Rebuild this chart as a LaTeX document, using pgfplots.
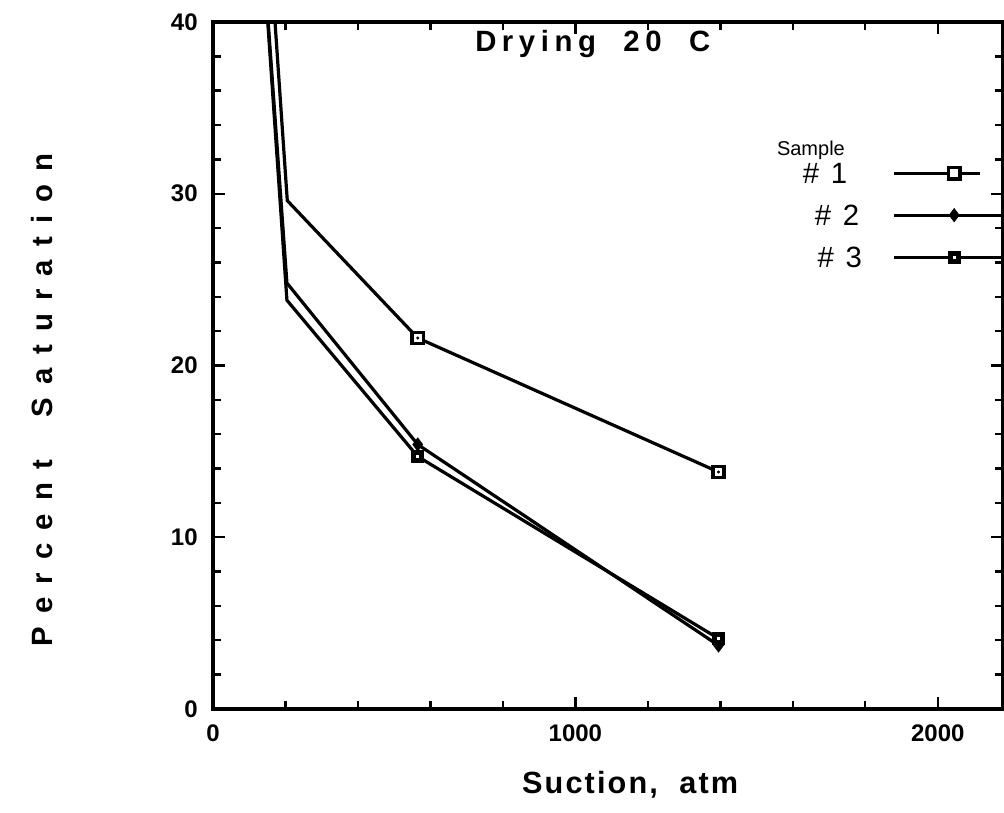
\documentclass[border=0pt]{standalone}
\usepackage{fontspec}
\setmainfont{Liberation Sans}
\usepackage{pgfplots}
\pgfplotsset{compat=1.18}

% drying curves, three samples (first row lies above the plot, clipped)
\pgfplotstableread{
x y
145 48
205 29.6
565 21.6
1395 13.8
}\sone
\pgfplotstableread{
x y
125 48
204 24.8
565 15.4
1395 3.7
}\stwo
\pgfplotstableread{
x y
125 48
204 23.8
565 14.7
1395 4.1
}\sthree

\begin{document}
\begin{tikzpicture}
\begin{axis}[
    scale only axis,
    width=592.5pt, height=515.25pt,
    xmin=0, xmax=2180, ymin=0, ymax=40,
    xtick={0,1000,2000}, ytick={0,10,20,30,40},
    minor x tick num=4, minor y tick num=4,
    tick align=inside,
    xtick pos=both, ytick pos=both,
    xticklabel pos=left, yticklabel pos=left,
    major tick length=9pt, minor tick length=6pt,
    every tick/.style={black, line width=1.8pt},
    axis line style={line width=2.4pt},
    ticklabel style={font=\fontsize{18}{18}\selectfont\bfseries},
    /pgf/number format/assume math mode=true,
    /pgf/number format/1000 sep={},
    yticklabel style={xshift=-8pt},
    xticklabel style={yshift=-8.5pt},
    xlabel={Suction,\ \ atm},
    ylabel={Percent\ \ Saturation},
    xlabel style={at={(axis description cs:0.528,-0.111)}, anchor=center,
        font=\fontsize{23}{23}\selectfont\bfseries\addfontfeature{LetterSpace=7}},
    ylabel style={at={(axis description cs:-0.2165,0.45)}, anchor=center,
        font=\fontsize{22}{22}\selectfont\bfseries\addfontfeature{LetterSpace=45}},
    legend plot pos=right,
    legend cell align=left,
    legend style={at={(axis cs:1616,31.97)}, anchor=north west, draw=none, fill=none,
        font=\fontsize{22}{22}\selectfont,
        nodes={inner sep=0pt, text height=15.5pt, text depth=0pt},
        row sep=16pt,
        /tikz/every odd column/.append style={column sep=23pt}},
    legend image code/.code={\draw[mark indices={2}]
        plot coordinates {(0pt,0pt) (45pt,0pt) (82pt,0pt)};},
]
\addplot[black, line width=2.4pt, mark indices={2,3,4}, mark=square*,
    mark size=4.2pt, mark options={fill=white, line width=2.6pt},
    legend image code/.code={\draw[mark indices={2}]
        plot coordinates {(0pt,0pt) (45pt,0pt) (64pt,0pt)};}] table {\sone};
\addlegendentry{\#\hspace{0.4em}1}
\addplot[black, line width=2.4pt, mark indices={2,3,4}, mark=diamond*,
    mark size=5pt, mark options={fill=black, line width=0.5pt}] table {\stwo};
\addlegendentry{\hspace{9pt}\#\hspace{0.4em}2}
\addplot[black, line width=2.4pt, mark indices={2,3,4}, mark=square*,
    mark size=3pt, mark options={fill=white, line width=3.6pt}] table {\sthree};
\addlegendentry{\hspace{11pt}\#\hspace{0.4em}3}
% centre dots of the open squares
\addplot[only marks, mark=*, mark size=0.9pt, black, mark indices={2,3,4},
    forget plot] table {\sone};

\node[font=\fontsize{22}{22}\selectfont\bfseries\addfontfeature{LetterSpace=19}]
    at (axis cs:1048,38.7) {Drying\ \ 20\ \ C};
\node[font=\fontsize{15}{15}\selectfont] at (axis cs:1650,32.5) {Sample};

\coordinate (sw) at (rel axis cs:0,0);
\coordinate (ne) at (rel axis cs:1,1);
\end{axis}
\pgfresetboundingbox
\path ([shift={(-159.75pt,-78pt)}]sw) rectangle ([shift={(0.75pt,16.5pt)}]ne);
\end{tikzpicture}
\end{document}
